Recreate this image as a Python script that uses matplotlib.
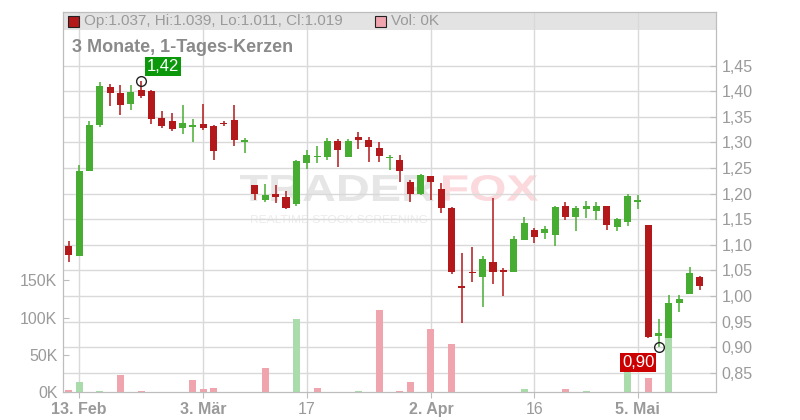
import numpy as np
import pandas as pd
import matplotlib
matplotlib.use('Agg')
import matplotlib.pyplot as plt
from matplotlib.patches import Rectangle, PathPatch
from matplotlib.textpath import TextPath
from matplotlib.font_manager import FontProperties
from matplotlib.transforms import Affine2D, IdentityTransform, blended_transform_factory

plt.rcParams['font.family'] = ['Liberation Sans', 'DejaVu Sans']

# trading days (german exchange holidays removed)
dates = pd.bdate_range('2025-02-12', '2025-05-13')
dates = dates.drop(pd.to_datetime(['2025-04-18', '2025-04-21', '2025-05-01']))

opens = [1.098, 1.079, 1.245, 1.335, 1.409, 1.397, 1.376, 1.403, 1.401, 1.348,
         1.341, 1.329, 1.331, 1.337, 1.333, 1.339, 1.343, 1.301, 1.216, 1.187,
         1.200, 1.194, 1.179, 1.259, 1.271, 1.271, 1.302, 1.271, 1.311, 1.305,
         1.290, 1.269, 1.266, 1.223, 1.199, 1.234, 1.210, 1.172, 1.019, 1.047,
         1.038, 1.067, 1.051, 1.046, 1.110, 1.128, 1.124, 1.120, 1.176, 1.155,
         1.169, 1.167, 1.175, 1.135, 1.144, 1.183, 1.139, 0.922, 0.918, 0.987,
         1.003, 1.037]
highs = [1.107, 1.255, 1.341, 1.419, 1.415, 1.413, 1.413, 1.421, 1.403, 1.362,
         1.358, 1.374, 1.345, 1.376, 1.334, 1.341, 1.374, 1.309, 1.216, 1.219,
         1.217, 1.206, 1.266, 1.286, 1.294, 1.308, 1.307, 1.307, 1.321, 1.311,
         1.300, 1.276, 1.276, 1.227, 1.239, 1.235, 1.221, 1.173, 1.083, 1.096,
         1.079, 1.192, 1.055, 1.118, 1.155, 1.133, 1.137, 1.176, 1.184, 1.176,
         1.186, 1.184, 1.176, 1.153, 1.200, 1.198, 1.139, 0.954, 1.001, 1.001,
         1.057, 1.039]
lows = [1.067, 1.079, 1.245, 1.331, 1.371, 1.354, 1.363, 1.386, 1.337, 1.329,
        1.322, 1.316, 1.300, 1.325, 1.265, 1.333, 1.294, 1.279, 1.188, 1.183,
        1.181, 1.169, 1.175, 1.249, 1.260, 1.265, 1.253, 1.271, 1.288, 1.261,
        1.262, 1.247, 1.222, 1.183, 1.197, 1.187, 1.163, 1.042, 0.948, 1.028,
        0.979, 1.024, 0.999, 1.046, 1.110, 1.104, 1.112, 1.098, 1.149, 1.126,
        1.153, 1.149, 1.128, 1.126, 1.137, 1.169, 0.917, 0.900, 0.917, 0.969,
        1.003, 1.011]
closes = [1.081, 1.245, 1.335, 1.411, 1.396, 1.374, 1.399, 1.390, 1.345, 1.333,
          1.326, 1.339, 1.332, 1.329, 1.283, 1.336, 1.304, 1.302, 1.199, 1.198,
          1.193, 1.171, 1.264, 1.275, 1.273, 1.303, 1.286, 1.302, 1.304, 1.292,
          1.273, 1.271, 1.245, 1.199, 1.237, 1.222, 1.171, 1.046, 1.015, 1.044,
          1.073, 1.046, 1.046, 1.112, 1.143, 1.116, 1.130, 1.173, 1.155, 1.171,
          1.176, 1.175, 1.139, 1.151, 1.196, 1.188, 0.920, 0.928, 0.987, 0.995,
          1.044, 1.019]
# volume in thousand
volumes = [3, 14, 0, 1.7, 0, 23, 0, 1.5, 0, 0,
           0, 0, 16.5, 4, 5.5, 0, 0, 0, 0, 32.7,
           0, 0, 98.5, 0, 5.8, 0, 0, 0, 2, 0,
           110, 0, 1.5, 13.5, 0, 85, 0, 64.5, 0, 0,
           0, 0, 0, 0, 4.5, 0, 0, 0, 4.5, 0,
           2, 0, 0, 0, 35, 0, 18.4, 0, 72, 0,
           0, 0]

tick_dates = ['2025-02-13', '2025-03-03', '2025-03-17', '2025-04-02', '2025-04-16', '2025-05-05']
tick_labels = ['13. Feb', '3. Mär', '17', '2. Apr', '16', '5. Mai']
tick_bold = [True, True, False, True, False, True]
price_ticks = [0.85, 0.90, 0.95, 1.00, 1.05, 1.10, 1.15, 1.20, 1.25, 1.30, 1.35, 1.40, 1.45]
vol_ticks = [0, 50, 100, 150]

RED = '#b3181b'
GREEN = '#47ad32'
VRED = '#f0a5ae'
VGREEN = '#a9dcaa'
GRID = '#d9d9d9'
AXC = '#bdbdbd'
TXT = '#9a9a9a'

o = np.array(opens); h = np.array(highs); l = np.array(lows); c = np.array(closes)
x = np.arange(len(dates))
up = c >= o
prev = np.r_[o[0], c[:-1]]
vol_up = c >= prev

fig = plt.figure(figsize=(8, 4.2), dpi=100)
ax_vol = fig.add_axes([63/800, 28/420, 653/800, 380/420])
ax = ax_vol.twinx()
ax.patch.set_visible(False)

# volume bars
ax_vol.bar(x, volumes, width=0.68, color=np.where(vol_up, VGREEN, VRED), zorder=2)
ax_vol.set_ylim(0, 511)
ax_vol.set_xlim(-0.55, 62.55)
ax_vol.set_yticks(vol_ticks)
ax_vol.set_yticklabels([f'{v}K' for v in vol_ticks])

# grid
ax_vol.set_axisbelow(True)
xt = dates.get_indexer(pd.to_datetime(tick_dates))
ax_vol.set_xticks(xt)
ax_vol.set_xticklabels(tick_labels)
ax_vol.grid(axis='x', color=GRID, lw=1)
tr = blended_transform_factory(ax_vol.transAxes, ax.transData)
for p in price_ticks:
    ax_vol.plot([0, 1], [p, p], color=GRID, lw=1, transform=tr, zorder=0.5)

# legend strip
ax_vol.add_patch(Rectangle((0, 362/380), 1, 18/380, transform=ax_vol.transAxes,
                           facecolor='#e3e3e3', edgecolor='none', zorder=0.2))

# watermark
def watermark(s, x0, x1, y0, y1, color, weight='bold'):
    tp = TextPath((0, 0), s, size=100, prop=FontProperties(family='Liberation Sans', weight=weight))
    bb = tp.get_extents()
    t = Affine2D().translate(-bb.x0, -bb.y0).scale((x1 - x0) / bb.width, (y1 - y0) / bb.height).translate(x0, 420 - y1)
    patch = PathPatch(t.transform_path(tp), facecolor=color, edgecolor='none',
                      transform=IdentityTransform(), zorder=0.3)
    ax_vol.add_artist(patch)

watermark('TRADER', 240, 434, 175, 201, '#e6e6e6')
watermark('FOX', 443, 538, 175, 201, '#fbd9dc')
watermark('REALTIME STOCK SCREENING', 251, 427, 215, 223, '#ececec', weight='normal')

# candles
ax.vlines(x, l, h, color=np.where(up, GREEN, RED), lw=1.1, zorder=3)
body = np.maximum(np.abs(c - o), 0.003)
ax.bar(x, body, bottom=np.minimum(o, c), width=0.68, color=np.where(up, GREEN, RED), zorder=4)
ax.set_ylim(0.8123, 1.555)
ax.set_yticks(price_ticks)
ax.set_yticklabels([f'{p:.2f}'.replace('.', ',') for p in price_ticks])

# high / low marks
ih = int(np.argmax(h)); il = int(np.argmin(l))
ax.plot([ih, il], [h[ih], l[il]], 'o', mfc='none', mec='#222222', ms=7, mew=1, zorder=6)
ax.annotate(f'{h[ih]:.2f}'.replace('.', ','), (ih, h[ih]), xytext=(4, 5), textcoords='offset points',
            ha='left', va='bottom', color='white', fontsize=12, zorder=7,
            bbox=dict(boxstyle='square,pad=0.12', fc='#0b990b', ec='none'))
ax.annotate(f'{l[il]:.2f}'.replace('.', ','), (il, l[il]), xytext=(-3, -6), textcoords='offset points',
            ha='right', va='top', color='white', fontsize=12, zorder=7,
            bbox=dict(boxstyle='square,pad=0.12', fc='#cc0000', ec='none'))

# axes styling
for a in (ax_vol, ax):
    for s in a.spines.values():
        s.set_color(AXC)
ax_vol.tick_params(axis='y', direction='in', length=4, color=AXC, labelcolor=TXT, labelsize=11.5, pad=4)
ax.tick_params(axis='y', direction='in', length=4, color=AXC, labelcolor=TXT, labelsize=11.5, pad=4)
ax_vol.tick_params(axis='x', direction='out', length=4, color=AXC, labelcolor=TXT, labelsize=11.5, pad=3)
for lab, b in zip(ax_vol.get_xticklabels(), tick_bold):
    lab.set_fontweight('bold' if b else 'normal')

# legend strip text
fig.patches.append(Rectangle((68/800, 1 - 27/420), 11/800, 11/420, transform=fig.transFigure,
                             facecolor=RED, edgecolor='#222222', lw=0.8))
fig.text(84/800, 1 - 21/420, f'Op:{o[-1]:.3f}, Hi:{h[-1]:.3f}, Lo:{l[-1]:.3f}, Cl:{c[-1]:.3f}',
         color=TXT, fontsize=11, va='center')
fig.patches.append(Rectangle((375/800, 1 - 27/420), 11/800, 11/420, transform=fig.transFigure,
                             facecolor=VRED, edgecolor='#222222', lw=0.8))
fig.text(391/800, 1 - 21/420, f'Vol: {volumes[-1]:.0f}K', color=TXT, fontsize=11, va='center')
fig.text(72/800, 1 - 47/420, '3 Monate, 1-Tages-Kerzen', color='#8a8a8a', fontsize=13,
         fontweight='bold', va='center')

fig.savefig('out.png', dpi=100)
